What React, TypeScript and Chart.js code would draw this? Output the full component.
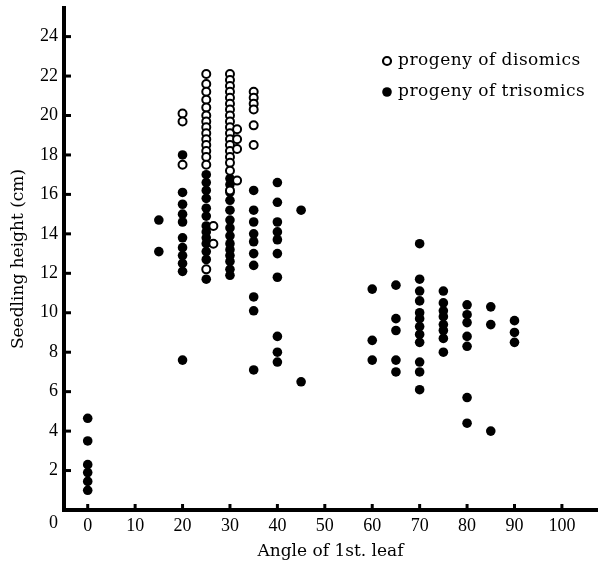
import React, { useEffect, useRef } from "react";
import { Chart, registerables } from "chart.js";

Chart.register(...registerables);

// ---- data ----
const xTicks = [0, 10, 20, 30, 40, 50, 60, 70, 80, 90, 100];
const yTicks = [2, 4, 6, 8, 10, 12, 14, 16, 18, 20, 22, 24];
const originLabel = "0";
const seriesLabels = ["progeny of disomics", "progeny of trisomics"];
const xTitle = "Angle of 1st. leaf";
const yTitle = "Seedling height (cm)";

// progeny of disomics (open circles): angle of each column and heights in it
const disomicAngles = [20, 25, 26.5, 30, 31.5, 35];
const disomicHeights = [
  [20.1, 19.7, 17.5],
  [22.1, 21.6, 21.2, 20.8, 20.4, 20.0, 19.7, 19.4, 19.1, 18.8, 18.5, 18.2, 17.9, 17.5, 12.2],
  [14.4, 13.5],
  [22.1, 21.8, 21.5, 21.2, 20.9, 20.6, 20.3, 20.0, 19.7, 19.4, 19.1, 18.8, 18.5, 18.2, 17.9, 17.6, 17.2, 16.2],
  [19.3, 18.8, 18.3, 16.7],
  [21.2, 20.9, 20.6, 20.3, 19.5, 18.5],
];

// progeny of trisomics (filled circles)
const trisomicAngles = [0, 15, 20, 25, 30, 35, 40, 45, 60, 65, 70, 75, 80, 85, 90];
const trisomicHeights = [
  [4.65, 3.5, 2.3, 1.9, 1.45, 1.0],
  [14.7, 13.1],
  [18.0, 16.1, 15.5, 15.0, 14.6, 13.8, 13.3, 12.9, 12.5, 12.1, 7.6],
  [17.0, 16.6, 16.2, 15.8, 15.3, 14.9, 14.4, 14.1, 13.8, 13.5, 13.1, 12.7, 11.7],
  [16.8, 16.5, 16.1, 15.7, 15.2, 14.7, 14.3, 13.9, 13.5, 13.2, 12.9, 12.6, 12.2, 11.9],
  [16.2, 15.2, 14.6, 14.0, 13.6, 13.0, 12.4, 10.8, 10.1, 7.1],
  [16.6, 15.6, 14.6, 14.1, 13.7, 13.0, 11.8, 8.8, 8.0, 7.5],
  [15.2, 6.5],
  [11.2, 8.6, 7.6],
  [11.4, 9.7, 9.1, 7.6, 7.0],
  [13.5, 11.7, 11.1, 10.6, 10.0, 9.7, 9.3, 8.9, 8.5, 7.5, 7.0, 6.1],
  [11.1, 10.5, 10.1, 9.8, 9.4, 9.1, 8.7, 8.0],
  [10.4, 9.9, 9.5, 8.8, 8.3, 5.7, 4.4],
  [10.3, 9.4, 4.0],
  [9.6, 9.0, 8.5],
];

const toPoints = (angles: number[], heights: number[][]) =>
  angles.flatMap((a, i) => heights[i].map((h) => ({ x: a, y: h })));

const decorPlugin = {
  id: "decor",
  afterDraw(chart: any) {
    const { ctx, chartArea, scales } = chart;
    const xs = scales.x;
    const ys = scales.y;
    ctx.save();
    ctx.strokeStyle = "#000";
    ctx.lineWidth = 3;
    ctx.lineCap = "butt";
    for (const v of xTicks) {
      const px = xs.getPixelForValue(v);
      ctx.beginPath();
      ctx.moveTo(px, chartArea.bottom);
      ctx.lineTo(px, chartArea.bottom - 6);
      ctx.stroke();
    }
    for (const v of yTicks) {
      const py = ys.getPixelForValue(v);
      ctx.beginPath();
      ctx.moveTo(chartArea.left, py);
      ctx.lineTo(chartArea.left + 7, py);
      ctx.stroke();
    }
    // origin label
    ctx.fillStyle = "#000";
    ctx.font = '18px "Liberation Serif"';
    ctx.textAlign = "right";
    ctx.textBaseline = "middle";
    ctx.fillText(originLabel, chartArea.left - 6, chartArea.bottom + 13);

    // legend
    const lx = chartArea.left + 323;
    const rows = [chartArea.top + 53, chartArea.top + 84];
    ctx.font = '17px "DejaVu Serif"';
    ctx.textAlign = "left";
    try {
      (ctx as any).letterSpacing = "0.5px";
    } catch (e) {}
    // open marker
    ctx.beginPath();
    ctx.arc(lx, rows[0], 4, 0, Math.PI * 2);
    ctx.fillStyle = "#fff";
    ctx.fill();
    ctx.lineWidth = 2.2;
    ctx.strokeStyle = "#000";
    ctx.stroke();
    // filled marker
    ctx.beginPath();
    ctx.arc(lx, rows[1], 4.8, 0, Math.PI * 2);
    ctx.fillStyle = "#000";
    ctx.fill();
    ctx.fillStyle = "#000";
    ctx.fillText(seriesLabels[0], lx + 11, rows[0]);
    ctx.fillText(seriesLabels[1], lx + 11, rows[1]);
    ctx.restore();
  },
};

export default function App() {
  const ref = useRef<HTMLCanvasElement | null>(null);
  useEffect(() => {
    if (!ref.current) return;
    const chart = new Chart(ref.current, {
      type: "scatter",
      data: {
        datasets: [
          {
            label: seriesLabels[0],
            data: toPoints(disomicAngles, disomicHeights),
            pointStyle: "circle",
            pointRadius: 4,
            pointBorderWidth: 2,
            pointBackgroundColor: "#fff",
            pointBorderColor: "#000",
            showLine: false,
          },
          {
            label: seriesLabels[1],
            data: toPoints(trisomicAngles, trisomicHeights),
            pointStyle: "circle",
            pointRadius: 4.8,
            pointBorderWidth: 0,
            pointBackgroundColor: "#000",
            pointBorderColor: "#000",
            showLine: false,
          },
        ],
      },
      options: {
        animation: false,
        responsive: true,
        maintainAspectRatio: false,
        events: [],
        layout: { padding: { top: 8, right: 9, left: 0, bottom: 0 } },
        plugins: {
          legend: { display: false },
          tooltip: { enabled: false },
        },
        scales: {
          x: {
            type: "linear",
            min: -5,
            max: 107.4,
            afterFit: (s: any) => {
              s.height = 56;
              s.paddingLeft = 0;
              s.paddingRight = 0;
            },
            afterBuildTicks: (s: any) => {
              s.ticks = xTicks.map((value) => ({ value }));
            },
            grid: { display: false, drawTicks: false },
            border: { display: true, color: "#000", width: 4 },
            ticks: {
              color: "#000",
              padding: 5,
              autoSkip: false,
              maxRotation: 0,
              font: { family: "Liberation Serif", size: 18 },
            },
            title: {
              display: true,
              text: xTitle,
              color: "#000",
              font: { family: "DejaVu Serif", size: 17 },
              padding: { top: 0, bottom: 4 },
            },
          },
          y: {
            type: "linear",
            min: 0,
            max: 25.45,
            afterFit: (s: any) => {
              s.width = 64;
              s.paddingTop = 0;
              s.paddingBottom = 0;
            },
            afterBuildTicks: (s: any) => {
              s.ticks = yTicks.map((value) => ({ value }));
            },
            grid: { display: false, drawTicks: false },
            border: { display: true, color: "#000", width: 4 },
            ticks: {
              color: "#000",
              padding: 6,
              autoSkip: false,
              font: { family: "Liberation Serif", size: 18 },
            },
            title: {
              display: true,
              text: yTitle,
              color: "#000",
              font: { family: "DejaVu Serif", size: 17 },
              padding: { top: 8, bottom: 0 },
            },
          },
        },
      },
      plugins: [decorPlugin],
    });
    return () => chart.destroy();
  }, []);

  return (
    <div
      style={{
        position: "fixed",
        left: 0,
        top: 0,
        width: 606,
        height: 566,
        background: "#fff",
      }}
    >
      <canvas ref={ref} />
    </div>
  );
}
